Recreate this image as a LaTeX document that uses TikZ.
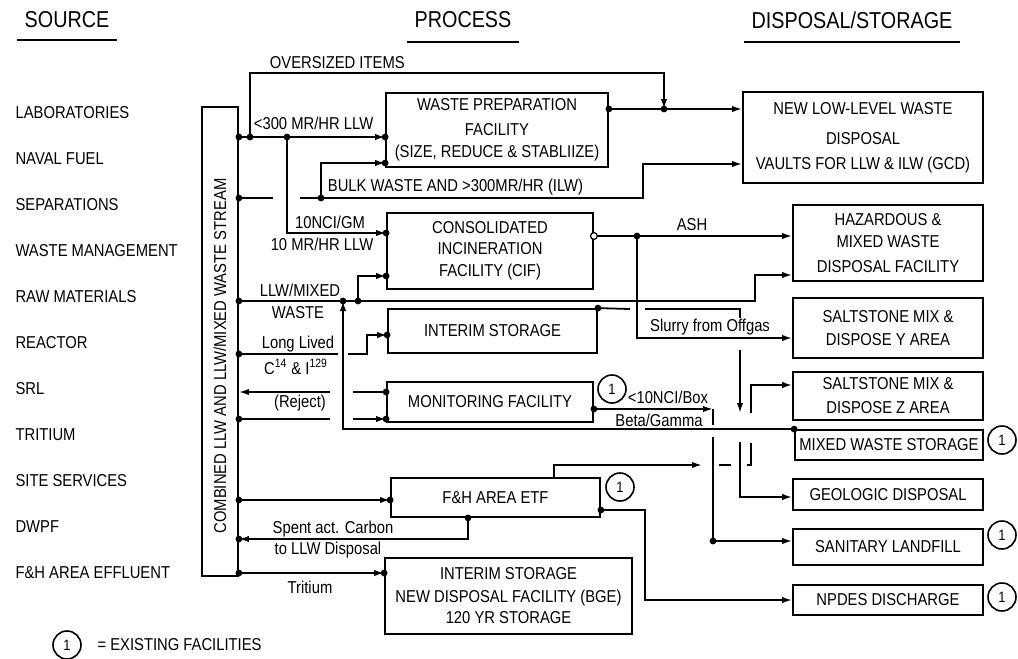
\documentclass[tikz,border=0pt]{standalone}
\usepackage{fontspec}
\setmainfont{Liberation Sans}[FakeStretch=0.86]
\usetikzlibrary{arrows.meta,calc}

\begin{document}
\begin{tikzpicture}[
  x=0.5pt, y=-0.5pt,
  font=\fontsize{8.6}{10}\selectfont,
  line width=0.9pt,
  blk/.style={draw, line width=0.9pt, align=center, inner sep=0pt},
  hdr/.style={font=\fontsize{11.5}{13}\selectfont},
  src/.style={anchor=west},
  lbl/.style={inner sep=0.5pt},
  ul/.style={line width=1.3pt},
  arr/.style={-{Latex[length=5pt, width=3.2pt]}},
  exist/.style={circle, draw, line width=0.8pt, inner sep=0pt, minimum size=14pt, font=\fontsize{7.5}{8}\selectfont}
]
  \useasboundingbox (0,0) rectangle (1018,659);

  % column heads
  \node[hdr] (hsrc)  at (67,20)  {SOURCE};
  \node[hdr] (hproc) at (463,20) {PROCESS};
  \node[hdr] (hdisp) at (852,20) {DISPOSAL/STORAGE};
  \draw[ul] (hsrc.south west |- 0,40) -- (hsrc.south east |- 0,40);
  \draw[ul] (hproc.south west |- 0,42) -- (hproc.south east |- 0,42);
  \draw[ul] (hdisp.south west |- 0,42) -- (hdisp.south east |- 0,42);

  % sources
  \node[src] (s1)  at (8,113) {LABORATORIES};
  \node[src] (s2)  at (8,159) {NAVAL FUEL};
  \node[src] (s3)  at (8,205) {SEPARATIONS};
  \node[src] (s4)  at (8,251) {WASTE MANAGEMENT};
  \node[src] (s5)  at (8,297) {RAW MATERIALS};
  \node[src] (s6)  at (8,343) {REACTOR};
  \node[src] (s7)  at (8,389) {SRL};
  \node[src] (s8)  at (8,435) {TRITIUM};
  \node[src] (s9)  at (8,481) {SITE SERVICES};
  \node[src] (s10) at (8,527) {DWPF};
  \node[src] (s11) at (8,573) {F\&H AREA EFFLUENT};

  \node[blk, minimum width=18pt, minimum height=234.5pt] (strm) at (220,341.5) {};
  \node[rotate=90] (strmlbl) at (220,356) {COMBINED LLW AND LLW/MIXED WASTE STREAM};

  % process blocks
  \node[blk, minimum width=111pt, minimum height=37pt] (wpf) at (497,130)
    {WASTE PREPARATION\\[2.5pt]FACILITY\\[1pt](SIZE, REDUCE \& STABLIIZE)};
  \node[blk, minimum width=103pt, minimum height=38pt] (cif) at (490,251)
    {CONSOLIDATED\\[0.5pt]INCINERATION\\[1pt]FACILITY (CIF)};
  \node[blk, minimum width=104.5pt, minimum height=22pt] (interim) at (492.5,331) {INTERIM STORAGE};
  \node[blk, minimum width=103pt, minimum height=20pt] (mon) at (490,402) {MONITORING FACILITY};
  \node[blk, minimum width=104.5pt, minimum height=19.5pt] (etf) at (495.5,497.5) {F\&H AREA ETF};
  \node[blk, minimum width=123.5pt, minimum height=38pt] (bge) at (508.5,596)
    {INTERIM STORAGE\\[1.5pt]NEW DISPOSAL FACILITY (BGE)\\[0.5pt]120 YR STORAGE};

  % disposal blocks
  \node[blk, minimum width=120pt, minimum height=45.5pt] (newllw) at (863,137.5)
    {NEW LOW-LEVEL WASTE\\[5pt]DISPOSAL\\[2.5pt]VAULTS FOR LLW \& ILW (GCD)};
  \node[blk, minimum width=95pt, minimum height=38pt] (haz) at (888,243)
    {HAZARDOUS \&\\[1pt]MIXED WASTE\\[2.5pt]DISPOSAL FACILITY};
  \node[blk, minimum width=95pt, minimum height=30pt] (saltY) at (888,328)
    {SALTSTONE MIX \&\\[1.5pt]DISPOSE Y AREA};
  \node[blk, minimum width=95pt, minimum height=24pt] (saltZ) at (888,396)
    {SALTSTONE MIX \&\\[2pt]DISPOSE Z AREA};
  \node[blk, minimum width=94pt, minimum height=15pt] (mws) at (889,445) {MIXED WASTE STORAGE};
  \node[blk, minimum width=95pt, minimum height=15.5pt] (geo) at (888,494.5) {GEOLOGIC DISPOSAL};
  \node[blk, minimum width=95pt, minimum height=18pt] (sani) at (888,547) {SANITARY LANDFILL};
  \node[blk, minimum width=95pt, minimum height=15pt] (npdes) at (888,600) {NPDES DISCHARGE};

  \node[exist] (e1) at (612,389) {1};
  \node[exist] (e2) at (620,487) {1};
  \node[exist] (e3) at (1002,440) {1};
  \node[exist] (e4) at (1002,535) {1};
  \node[exist] (e5) at (1002,597) {1};
  \node[exist] (eleg) at (67,645) {1};
  \node[anchor=west] (lleg) at (90,645) {= EXISTING FACILITIES};

  % line labels
  \node[lbl, anchor=west] (lovr)  at (268,63)  {OVERSIZED ITEMS};
  \node[lbl, anchor=west] (l300)  at (252,123) {<300 MR/HR LLW};
  \node[lbl, anchor=west] (lbulk) at (326,187) {BULK WASTE AND >300MR/HR (ILW)};
  \node[lbl] (lnci)   at (330,222) {10NCI/GM};
  \node[lbl] (lmr)    at (322,244) {10 MR/HR LLW};
  \node[lbl] (lash)   at (692,225) {ASH};
  \node[lbl] (lmix)   at (300,290) {LLW/MIXED};
  \node[lbl] (lwaste) at (298,313) {WASTE};
  \node[lbl] (llong)  at (298,344) {Long Lived};
  \node[lbl] (lci)    at (296,367) {C\textsuperscript{14} \& I\textsuperscript{129}};
  \node[lbl] (lrej)   at (300,403) {(Reject)};
  \node[lbl] (lslur)  at (710,327) {Slurry from Offgas};
  \node[lbl, anchor=west] (lbox) at (626,397) {<10NCI/Box};
  \node[lbl] (lbeta)  at (659,420) {Beta/Gamma};
  \node[lbl] (lspent) at (333,529) {Spent act. Carbon};
  \node[lbl] (lto)    at (328,550) {to LLW Disposal};
  \node[lbl] (ltrit)  at (310,587) {Tritium};

  % upper feed lines
  \coordinate (b1) at (strm.east |- 0,137);
  \coordinate (j1) at (250,137);
  \coordinate (j3) at (287,137);
  \coordinate (j2) at (664,109);
  \draw[arr] (b1) -- (wpf.west |- b1);
  \draw[arr] (j1) -- (j1 |- 0,73) -| (j2);
  \draw[arr] (wpf.east |- j2) -- (newllw.west |- j2);
  \coordinate (b2) at (strm.east |- 0,198);
  \coordinate (j4) at (321,198);
  \draw (b2) -- (273,198);
  \draw[arr] (300,198) -- (643,198) |- (newllw.west |- 0,164);
  \draw[arr] (j4) |- (wpf.west |- 0,163);
  \draw[arr] (j3) |- (cif.west |- 0,233);

  % llw / mixed waste
  \coordinate (b3) at (strm.east |- 0,301);
  \coordinate (j5) at (343,301);
  \coordinate (j6) at (358,301);
  \draw[arr] (b3) -- (755,301) |- (haz.west |- 0,275);
  \draw[arr] (j6) |- (cif.west |- 0,276);
  \coordinate (j7) at (637,236);
  \draw[arr] (cif.east |- j7) -- (haz.west |- j7);
  \draw[arr] (j7) |- (saltY.west |- 0,338);

  % interim storage to geologic
  \draw (interim.north east) -- (630,309);
  \draw (645,309) -| (740,318);
  \draw[arr] (740,350) -- (740,413);
  \draw[arr] (740,442) |- (geo.west |- 0,497);
  \coordinate (b4) at (strm.east |- 0,354);
  \draw (b4) -- (338,354);
  \draw[arr] (348,354) -- (367,354) |- (interim.west |- 0,335);

  % monitoring
  \coordinate (b5) at (strm.east |- 0,419);
  \draw[arr] (330,392) -- (strm.east |- 0,392);
  \draw (mon.west |- 0,392) -- (353,392);
  \draw (b5) -- (330,419);
  \draw[arr] (353,419) -- (mon.west |- 0,419);
  \coordinate (j8) at (mon.east |- 0,409);
  \draw[arr] (j8) -- (713,409);
  \draw (713,409) -- (713,425);
  \draw[arr] (713,437) |- (sani.west |- 0,541);
  \draw[arr] (mws.north west) -| (j5);

  % effluent treatment
  \coordinate (b6) at (strm.east |- 0,500);
  \coordinate (b7) at (strm.east |- 0,539);
  \coordinate (b8) at (strm.east |- 0,573);
  \draw[arr] (b6) -- (etf.west |- b6);
  \draw[arr] (etf.south -| 468,0) |- (b7);
  \draw[arr] (etf.north -| 554,0) -- (554,465) -- (702,465);
  \draw (719,465) -- (731,465);
  \draw (747,465) -- (751,465) -- (751,443);
  \draw[arr] (751,413) |- (saltZ.west |- 0,385);
  \draw[arr] (etf.east |- 0,510) -- (645,510) |- (npdes.west |- 0,600);
  \draw[arr] (b8) -- (bge.west |- b8);

  % junction dots
  \fill (b1) circle (1.7pt);
  \fill (j1) circle (1.7pt);
  \fill (j3) circle (1.7pt);
  \fill (wpf.west |- b1) circle (1.7pt);
  \fill (wpf.west |- 0,163) circle (1.7pt);
  \fill (wpf.east |- j2) circle (1.7pt);
  \fill (j2) circle (1.7pt);
  \fill (b2) circle (1.7pt);
  \fill (j4) circle (1.7pt);
  \fill (cif.west |- 0,233) circle (1.7pt);
  \fill (cif.west |- 0,276) circle (1.7pt);
  \fill (b3) circle (1.7pt);
  \fill (j5) circle (1.7pt);
  \fill (j6) circle (1.7pt);
  \fill (j7) circle (1.7pt);
  \filldraw[fill=white, line width=0.6pt] (cif.east |- j7) circle (1.7pt);
  \fill (interim.north east) circle (1.7pt);
  \fill (b4) circle (1.7pt);
  \fill (interim.west |- 0,335) circle (1.7pt);
  \fill (mon.west |- 0,392) circle (1.7pt);
  \fill (mon.west |- 0,419) circle (1.7pt);
  \fill (b5) circle (1.7pt);
  \fill (j8) circle (1.7pt);
  \fill (713,541) circle (1.7pt);
  \fill (mws.north west) circle (1.7pt);
  \fill (b6) circle (1.7pt);
  \fill (etf.west |- b6) circle (1.7pt);
  \fill (b7) circle (1.7pt);
  \fill (etf.south -| 468,0) circle (1.7pt);
  \fill (etf.east |- 0,510) circle (1.7pt);
  \fill (b8) circle (1.7pt);
  \fill (bge.west |- b8) circle (1.7pt);
\end{tikzpicture}
\end{document}
